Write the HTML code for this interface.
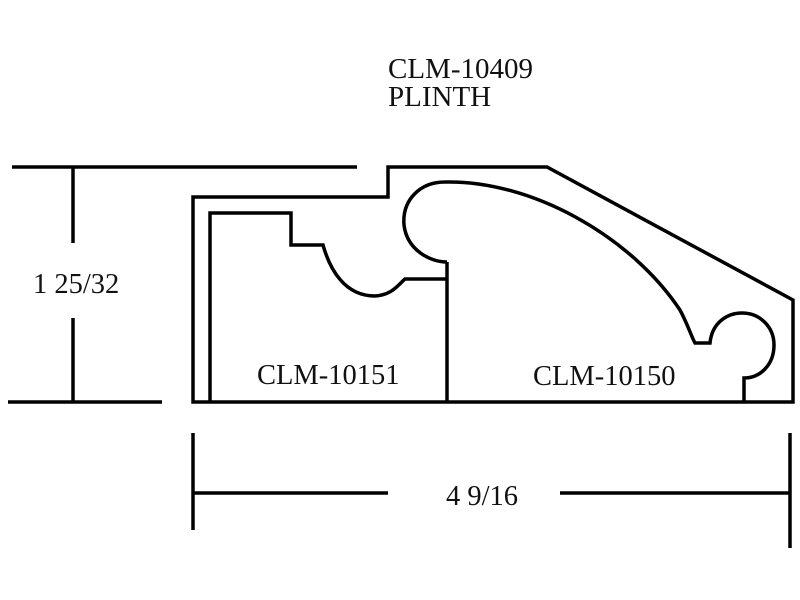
<!DOCTYPE html>
<html><head><meta charset="utf-8"><style>
html,body{margin:0;padding:0;background:#fff}
svg{display:block}
text{font-family:"Liberation Serif",serif;fill:#111}
</style></head><body>
<svg width="800" height="600" viewBox="0 0 800 600">
<g fill="none" stroke="#000" stroke-width="3.5" stroke-linejoin="miter">
<line x1="12" y1="167" x2="357" y2="167"/>
<line x1="73" y1="167" x2="73" y2="243"/>
<line x1="73" y1="318" x2="73" y2="402"/>
<line x1="8" y1="402" x2="162" y2="402"/>
<path d="M193,402 L193,197 L388,197 L388,167 L547,167 L793,300 L793,402 Z"/>
<path d="M210,402 L210,213 L291,213 L291,245 L323,245 C330,270 345,296 375,296 C392,295 398,285 405,279 L447,279"/>
<line x1="447" y1="262" x2="447" y2="402"/>
<path d="M447,262 C430,262 407,250 404,225 C402,200 420,182 445,182 C530,180 630,235 680,310 C688,325 692,338 695,343 L710,343 C712,322 728,313 742,313 C760,313 774,327 774,345 C774,365 760,378 744,378 L744,402"/>
<line x1="193" y1="433" x2="193" y2="530"/>
<line x1="790" y1="433" x2="790" y2="548"/>
<line x1="193" y1="493" x2="388" y2="493"/>
<line x1="560" y1="493" x2="790" y2="493"/>
</g>
<text x="388" y="78" font-size="29">CLM-10409</text>
<text x="388" y="106" font-size="29">PLINTH</text>
<text x="33" y="293" font-size="28.5">1 25/32</text>
<text x="257" y="384" font-size="28.5">CLM-10151</text>
<text x="533" y="385" font-size="28.5">CLM-10150</text>
<text x="482" y="505" font-size="28.5" text-anchor="middle">4 9/16</text>
</svg>
</body></html>
